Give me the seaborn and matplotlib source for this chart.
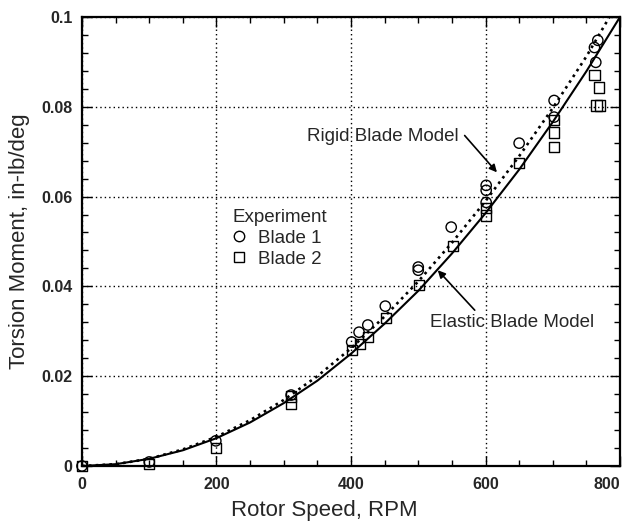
import matplotlib
matplotlib.use("Agg")
import matplotlib.pyplot as plt
import seaborn as sns
from matplotlib.lines import Line2D
from matplotlib.ticker import MultipleLocator, FixedLocator, FixedFormatter

# Model predictions of torsion moment vs rotor speed
model_rpm = [0, 50, 100, 150, 200, 250, 300, 350, 400, 450, 500, 550, 600, 650, 700, 750, 800]
elastic_moment = [0.0, 0.0004, 0.0016, 0.0035, 0.0062, 0.0097, 0.0140, 0.0190, 0.0250,
                  0.0317, 0.0390, 0.0473, 0.0563, 0.0660, 0.0766, 0.0879, 0.1000]
rigid_moment = [0.0, 0.0004, 0.0016, 0.0037, 0.0065, 0.0102, 0.0147, 0.0200, 0.0262,
                0.0333, 0.0411, 0.0497, 0.0590, 0.0690, 0.0797, 0.0912, 0.1040]

# Measured values
blade1_rpm = [0, 100, 199, 311, 401, 412, 425, 451, 500, 500, 549, 601, 601, 601,
              650, 702, 702, 767, 762, 764]
blade1_moment = [0.0, 0.0009, 0.0056, 0.0158, 0.0276, 0.0298, 0.0314, 0.0356, 0.0443, 0.0436,
                 0.0532, 0.0625, 0.0614, 0.0587, 0.0719, 0.0814, 0.0777, 0.0948, 0.0932, 0.0899]
blade2_rpm = [0, 100, 199, 311, 311, 401, 413, 425, 452, 501, 552, 601, 601, 650,
              702, 702, 702, 762, 769, 765, 770]
blade2_moment = [0.0, 0.0005, 0.0040, 0.0155, 0.0138, 0.0258, 0.0271, 0.0287, 0.0330, 0.0403,
                 0.0490, 0.0574, 0.0558, 0.0674, 0.0770, 0.0743, 0.0710, 0.0870, 0.0843,
                 0.0803, 0.0803]

x_ticks = [0, 200, 400, 600, 800]
x_tick_labels = ["0", "200", "400", "600", "800"]
y_ticks = [0.0, 0.02, 0.04, 0.06, 0.08, 0.1]
y_tick_labels = ["0", "0.02", "0.04", "0.06", "0.08", "0.1"]

sns.set_style("ticks")
plt.rcParams["font.family"] = ["Liberation Sans", "DejaVu Sans"]

fig = plt.figure(figsize=(6.23, 5.22), dpi=100)
ax = fig.add_axes([0.1316, 0.1073, 0.8636, 0.8602])

sns.lineplot(x=model_rpm, y=elastic_moment, ax=ax, color="black", linewidth=1.5,
             estimator=None, sort=False)
sns.lineplot(x=model_rpm, y=rigid_moment, ax=ax, color="black", linewidth=1.9,
             linestyle=(0, (1, 1.6)), estimator=None, sort=False)

sns.scatterplot(x=blade1_rpm, y=blade1_moment, ax=ax, marker="o", s=55,
                facecolor="none", edgecolor="black", linewidth=1.0, clip_on=False, zorder=3)
sns.scatterplot(x=blade2_rpm, y=blade2_moment, ax=ax, marker="s", s=55,
                facecolor="none", edgecolor="black", linewidth=1.0, clip_on=False, zorder=3)

ax.set_xlim(0, 800)
ax.set_ylim(0, 0.1)
ax.xaxis.set_major_locator(FixedLocator(x_ticks))
ax.xaxis.set_major_formatter(FixedFormatter(x_tick_labels))
ax.yaxis.set_major_locator(FixedLocator(y_ticks))
ax.yaxis.set_major_formatter(FixedFormatter(y_tick_labels))
ax.xaxis.set_minor_locator(MultipleLocator(50))
ax.yaxis.set_minor_locator(MultipleLocator(0.004))

ax.tick_params(which="both", direction="in", top=True, right=True, color="black", width=1.0)
ax.tick_params(which="major", length=7, labelsize=11.5)
ax.tick_params(which="minor", length=4)
ax.tick_params(axis="y", pad=7)
ax.tick_params(axis="x", pad=8)

for lbl in ax.get_xticklabels() + ax.get_yticklabels():
    lbl.set_fontweight("bold")
# keep the last x label inside the figure edge
ax.get_xticklabels()[-1].set_horizontalalignment("right")

for side in ax.spines.values():
    side.set_visible(True)
    side.set_color("black")
    side.set_linewidth(1.6)

ax.grid(True, which="major", color="black", linestyle=(0, (1, 2.2)), linewidth=1.0)

ax.set_xlabel("Rotor Speed, RPM", fontsize=16, labelpad=6)
ax.xaxis.set_label_coords(0.45, -0.075)
ax.set_ylabel("Torsion Moment, in-lb/deg", fontsize=16, labelpad=8)

# Model labels with pointers
ax.text(334.6, 0.0734, "Rigid Blade Model", fontsize=13.5, ha="left", va="center")
ax.annotate("", xy=(617, 0.0654), xytext=(569, 0.0736),
            arrowprops=dict(arrowstyle="-|>", color="black", lw=1.2, mutation_scale=11,
                            shrinkA=0, shrinkB=0))
ax.text(517.5, 0.0320, "Elastic Blade Model", fontsize=13.5, ha="left", va="center")
ax.annotate("", xy=(529, 0.0436), xytext=(584, 0.0347),
            arrowprops=dict(arrowstyle="-|>", color="black", lw=1.2, mutation_scale=11,
                            shrinkA=0, shrinkB=0))

handles = [
    Line2D([], [], linestyle="none", marker="o", markersize=7.5, markerfacecolor="none",
           markeredgecolor="black", markeredgewidth=1.0),
    Line2D([], [], linestyle="none", marker="s", markersize=7.5, markerfacecolor="none",
           markeredgecolor="black", markeredgewidth=1.0),
]
leg = ax.legend(handles, ["Blade 1", "Blade 2"], title="Experiment", loc="upper left",
                bbox_to_anchor=(232 / 623, 1 - 209 / 522), bbox_transform=fig.transFigure,
                frameon=False, fontsize=13.5, title_fontsize=13.5, alignment="left",
                borderpad=0, borderaxespad=0, handlelength=0.7, handletextpad=0.7,
                labelspacing=0.2)

fig.savefig("out.png", dpi=100)
